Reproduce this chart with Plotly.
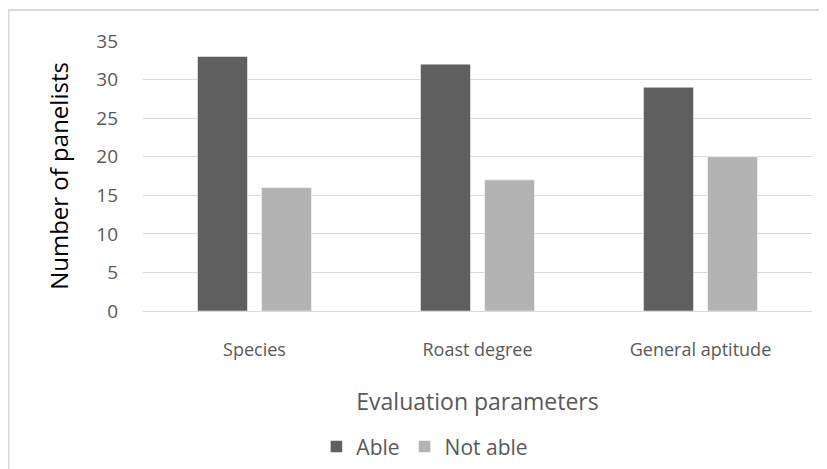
import plotly.graph_objects as go

categories = ["Species", "Roast degree", "General aptitude"]
able = [33, 32, 29]
not_able = [16, 17, 20]
y_ticks = [0, 5, 10, 15, 20, 25, 30, 35]

FONT = "Open Sans"
# page has an 8px body margin, so the figure is 8px smaller than the window
W, H = 819, 461
L, R, T, B = 135, 15, 33, 158
pw, ph = W - L - R, H - T - B

fig = go.Figure()
fig.add_trace(go.Bar(x=categories, y=able, name="Able",
                     marker=dict(color="#5f5f5f", line=dict(color="#ffffff", width=0.5))))
fig.add_trace(go.Bar(x=categories, y=not_able, name="Not able",
                     marker=dict(color="#b3b3b3", line=dict(color="#ffffff", width=0.5))))

fig.update_layout(
    width=W, height=H,
    margin=dict(l=L, r=R, t=T, b=B, pad=0, autoexpand=False),
    paper_bgcolor="white", plot_bgcolor="white",
    barmode="group", bargap=0.426, bargroupgap=0.219,
    font=dict(family=FONT, color="#595959", size=18),
    showlegend=True,
    legend=dict(orientation="h", xref="container", yref="container",
                x=0.509, xanchor="center", y=0.048, yanchor="middle",
                font=dict(size=21, color="#595959"),
                traceorder="normal"),
    xaxis=dict(showgrid=False, showline=False, ticks="", ticklabelstandoff=26,
               tickfont=dict(size=18, color="#595959"),
               title=dict(text="Evaluation parameters", standoff=33,
                          font=dict(size=23, color="#595959"))),
    yaxis=dict(range=[0, 35], tickvals=y_ticks, showgrid=True, gridcolor="#d9d9d9",
               gridwidth=1, zeroline=True, zerolinecolor="#d9d9d9", zerolinewidth=1,
               showline=False, ticks="", ticklabelstandoff=24,
               tickfont=dict(size=19, color="#595959"),
               title=dict(text="Number of panelists", standoff=20,
                          font=dict(size=24, color="#000000"))),
)

# chart border (top and left visible)
fig.add_shape(type="line", xref="paper", yref="paper",
              x0=(0 - L) / pw, x1=(W - L) / pw, y0=1 + (T - 2) / ph, y1=1 + (T - 2) / ph,
              line=dict(color="#d9d9d9", width=2))
fig.add_shape(type="line", xref="paper", yref="paper",
              x0=(0.5 - L) / pw, x1=(0.5 - L) / pw, y0=1 + (T - 2) / ph, y1=-(B + 5) / ph,
              line=dict(color="#d9d9d9", width=2))

fig.write_html("out.html")
